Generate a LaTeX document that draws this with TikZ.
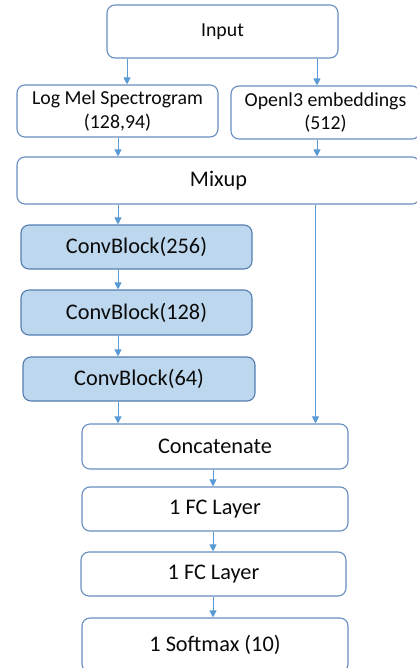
\documentclass[tikz,border=0pt]{standalone}
\usepackage{fontspec}
\setmainfont{Carlito}
\usetikzlibrary{arrows.meta}
\definecolor{arrowblue}{RGB}{91,155,213}
\definecolor{boxline}{RGB}{104,142,192}
\definecolor{convfill}{RGB}{189,215,238}
\definecolor{convline}{RGB}{84,126,176}
\definecolor{txt}{RGB}{10,10,10}
\tikzset{
  box/.style={draw=boxline, line width=1.1pt, rounded corners=8pt, fill=white,
    inner sep=0pt, align=center, text=txt},
  smallt/.style={font=\fontsize{19.8}{23.5}\selectfont},
  bigt/.style={font=\fontsize{22.3}{26}\selectfont},
  conv/.style={box, fill=convfill, draw=convline},
  arr/.style={draw=arrowblue, line width=1pt, -{Triangle[length=7pt,width=7pt]}},
  ln/.style={draw=arrowblue, line width=1pt}
}
\begin{document}
\begin{tikzpicture}[x=1pt,y=1pt]
\useasboundingbox (0,0) rectangle (416,-668);
\node[box,smallt,minimum width=231pt,minimum height=53pt] (in) at (222.5,-31.5) {Input};
\node[box,smallt,minimum width=201pt,minimum height=52pt] (lm) at (117.5,-111) {Log Mel Spectrogram\\(128,94)};
\node[box,smallt,minimum width=189pt,minimum height=53pt] (op) at (325.5,-112.5) {Openl3 embeddings\\(512)};
\node[box,bigt,minimum width=403pt,minimum height=47pt] (mx) at (218.5,-180.5) {Mixup};
\node[conv,bigt,minimum width=231pt,minimum height=44pt] (c1) at (136.5,-247) {ConvBlock(256)};
\node[conv,bigt,minimum width=231pt,minimum height=45pt] (c2) at (136.5,-312.5) {ConvBlock(128)};
\node[conv,bigt,minimum width=232pt,minimum height=44pt] (c3) at (139,-379) {ConvBlock(64)};
\node[box,bigt,minimum width=266pt,minimum height=45pt] (cc) at (215,-446.5) {Concatenate};
\node[box,bigt,minimum width=266pt,minimum height=44pt] (f1) at (215,-509) {1 FC Layer};
\node[box,bigt,minimum width=265pt,minimum height=44pt] (f2) at (213.5,-574) {1 FC Layer};
\node[box,bigt,minimum width=266pt,minimum height=54pt] (sm) at (215,-645) {1 Softmax (10)};
\draw[arr] (in.south -| 127,0) -- (lm.north -| 127,0);
\draw[arr] (in.south -| 317,0) -- (op.north -| 317,0);
\draw[arr] (lm.south -| 118,0) -- (mx.north -| 118,0);
\draw[arr] (op.south -| 317,0) -- (mx.north -| 317,0);
\draw[arr] (mx.south -| 118,0) -- (c1.north -| 118,0);
\draw[arr] (c1.south -| 118,0) -- (c2.north -| 118,0);
\draw[arr] (c2.south -| 118,0) -- (c3.north -| 118,0);
\draw[arr] (c3.south -| 118,0) -- (cc.north -| 118,0);
\draw[arr] (mx.south -| 315.5,0) -- (cc.north -| 315.5,0);
\draw[arr] (cc.south -| 213,0) -- (f1.north -| 213,0);
\draw[arr] (f1.south -| 213,0) -- (f2.north -| 213,0);
\draw[arr] (f2.south -| 213,0) -- (sm.north -| 213,0);
\end{tikzpicture}
\end{document}
